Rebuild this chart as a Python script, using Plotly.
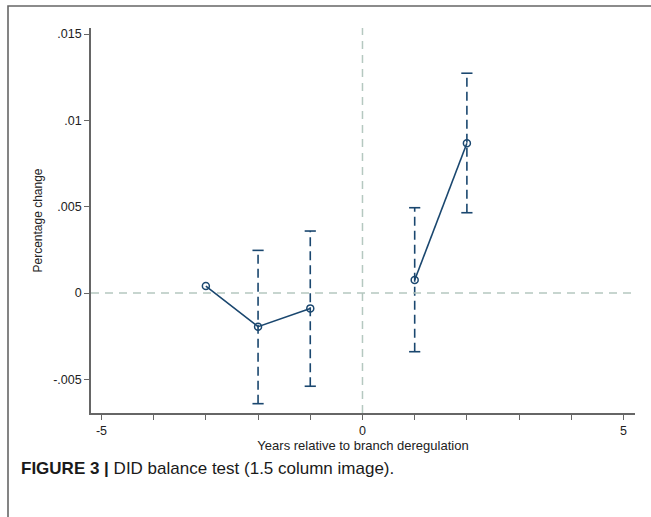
import plotly.graph_objects as go

# Data
years = [-3, -2, -1, 1, 2]
coef = [0.0004, -0.00195, -0.00089, 0.00075, 0.00867]
ci_low = [None, -0.00641, -0.0054, -0.0034, 0.00465]
ci_high = [None, 0.00247, 0.00359, 0.00494, 0.01273]

yticks = [-0.005, 0, 0.005, 0.01, 0.015]
yticklabels = ["-.005", "0", ".005", ".01", ".015"]
xticks = [-5, 0, 5]
xticklabels = ["-5", "0", "5"]

navy = "#1a476f"
refc = "#b5c8c0"
font_fam = "Liberation Sans, Arial, sans-serif"

fig = go.Figure()

# CI dashed segments
cx, cy = [], []
capx, capy = [], []
for x, lo, hi in zip(years, ci_low, ci_high):
    if lo is None:
        continue
    cx += [x, x, None]
    cy += [lo, hi, None]
    capx += [x, x]
    capy += [lo, hi]
fig.add_trace(go.Scatter(x=cx, y=cy, mode="lines",
                         line=dict(color=navy, width=1.6, dash="9px,5px"),
                         hoverinfo="skip", showlegend=False))
fig.add_trace(go.Scatter(x=capx, y=capy, mode="markers",
                         marker=dict(symbol="line-ew-open", size=8, color=navy,
                                     line=dict(color=navy, width=1.6)),
                         hoverinfo="skip", showlegend=False))

# Point estimates, connected (break between pre and post)
px, py = [], []
for x, c in zip(years, coef):
    if x > 0 and (not px or px[-1] is not None and px[-1] < 0):
        px.append(None); py.append(None)
    px.append(x); py.append(c)
fig.add_trace(go.Scatter(x=px, y=py, mode="lines+markers",
                         line=dict(color=navy, width=1.6),
                         marker=dict(symbol="circle-open", size=7, color=navy,
                                     line=dict(color=navy, width=1.5)),
                         connectgaps=False, showlegend=False))

fig.add_hline(y=0, line=dict(color=refc, width=1.5, dash="8px,6px"))
fig.add_vline(x=0, line=dict(color=refc, width=1.5, dash="8px,6px"))

L, R, T, B = 91, 16, 28, 104
W, H = 651, 517
pw, ph = W - L - R, H - T - B

def px2x(p):
    return (p - L) / pw

def px2y(p):
    return (H - B - p) / ph

# outer frame
fig.add_shape(type="rect", xref="paper", yref="paper",
              x0=px2x(8), x1=px2x(670), y0=px2y(540), y1=px2y(6),
              line=dict(color="#666666", width=1.6), layer="below")

fig.add_annotation(xref="paper", yref="paper", x=px2x(19), y=px2y(468),
                   xanchor="left", yanchor="middle", showarrow=False,
                   text="<b>FIGURE 3 |</b> DID balance test (1.5 column image).",
                   font=dict(family="Liberation Sans, Arial", size=17, color="#1a1a1a"))

fig.update_layout(
    width=W, height=H,
    margin=dict(l=L, r=R, t=T, b=B),
    paper_bgcolor="white", plot_bgcolor="white",
    font=dict(family=font_fam, size=12.5, color="#222222"),
    showlegend=False,
)
fig.update_xaxes(range=[-5.2, 5.22], tickvals=xticks, ticktext=xticklabels,
                 ticks="outside", ticklen=5, tickwidth=1.2, tickcolor="#666666",
                 minor=dict(dtick=1, tick0=0, ticks="outside", ticklen=5, tickwidth=1.2, tickcolor="#666666"),
                 showline=True, linecolor="#666666", linewidth=1.6,
                 showgrid=False, zeroline=False,
                 title=dict(text="Years relative to branch deregulation", standoff=3,
                            font=dict(size=13)))
fig.update_yaxes(range=[-0.00695, 0.01535], tickvals=yticks, ticktext=yticklabels,
                 ticks="outside", ticklen=5, tickwidth=1.2, tickcolor="#666666",
                 showline=True, linecolor="#666666", linewidth=1.6,
                 showgrid=False, zeroline=False,
                 title=dict(text="Percentage change", standoff=8, font=dict(size=12)))

fig.write_html("out.html")
